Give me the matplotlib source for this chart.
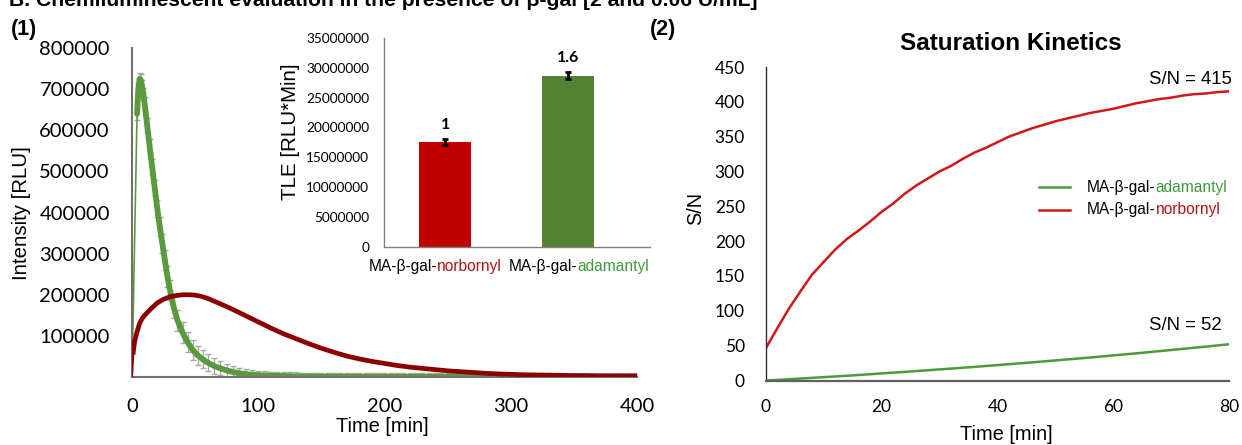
import matplotlib
matplotlib.use("Agg")
import matplotlib.pyplot as plt
from matplotlib.offsetbox import TextArea, HPacker, AnnotationBbox

# ---------------- data ----------------
# (1) kinetic profiles
t_green = [0, 4, 5, 6, 7, 8, 9, 10, 12, 14, 16, 18, 20, 22, 24, 26, 28, 30, 33, 36, 40,
           44, 48, 52, 56, 60, 65, 70, 75, 80, 85, 90, 95, 100,
           105, 110, 115, 120, 125, 130, 135, 140, 145, 150, 155, 160, 165, 170, 175, 180,
           185, 190, 195, 200, 205, 210, 215, 220, 225, 230, 235, 240, 245, 250, 255, 260,
           265, 270, 275, 280, 285, 290, 295, 300, 305, 310, 315, 320, 325, 330, 335, 340,
           345, 350, 355, 360, 365, 370, 375, 380, 385, 390, 395, 400]
adamantyl_rlu = [0, 640000, 700000, 725000, 722000, 708000, 688000, 665000, 612000, 560000,
                 510000, 460000, 410000, 366000, 325000, 285000, 245000, 212000, 170000,
                 138000, 108000, 85000, 66000, 53000, 43000, 35000, 27000, 21000, 16000,
                 12000, 9000, 7000, 5500, 4500,
                 3800, 3200, 2700, 2300, 2000, 1700, 1500, 1300, 1100, 1000, 900, 800, 700,
                 650, 600, 550, 500, 450, 400, 380, 360, 340, 320, 300, 290, 280, 270, 260,
                 250, 240, 230, 220, 210, 200, 200, 190, 180, 180, 170, 160, 160, 150, 150,
                 140, 140, 130, 130, 120, 120, 110, 110, 100, 100, 100, 100, 100, 100, 100,
                 100, 100]
adamantyl_err = [0, 15000, 15000, 15000, 15000, 15000, 15000, 16000, 17000, 18000, 19000,
                 20000, 21000, 22000, 23000, 24000, 25000, 25000, 26000, 26000, 26000, 25000,
                 24000, 23000, 22000, 21000, 19000, 17000, 15000, 14000, 13000, 12000, 11000,
                 10000,
                 9800, 9700, 9600, 9500, 9500, 9400, 9400, 9300, 9300, 9200, 9200, 9100, 9100,
                 9000, 9000, 9000, 8900, 8900, 8900, 8800, 8800, 8800, 8700, 8700, 8700, 8600,
                 8600, 8600, 8500, 8500, 8500, 8500, 8400, 8400, 8400, 8400, 8300, 8300, 8300,
                 8300, 8200, 8200, 8200, 8200, 8100, 8100, 8100, 8100, 8000, 8000, 8000, 8000,
                 8000, 8000, 8000, 8000, 8000, 8000, 8000, 8000]
t_red = [0, 1, 2, 4, 6, 8, 10, 15, 20, 25, 30, 35, 40, 45, 50, 55, 60, 70, 80, 90, 100,
         110, 120, 130, 140, 150, 160, 170, 180, 190, 200, 210, 220, 230, 240, 250, 260,
         270, 280, 290, 300, 310, 320, 330, 340, 350, 360, 370, 380, 390, 400]
norbornyl_rlu = [0, 60000, 85000, 110000, 130000, 142000, 150000, 166000, 180000, 189000,
                 195000, 198000, 200000, 200000, 199000, 196000, 191000, 178000, 164000,
                 149000, 134000, 119000, 105000, 93000, 81000, 70000, 60000, 51000, 44000,
                 38000, 33000, 28000, 24000, 21000, 18000, 15000, 13000, 11000, 9000, 7500,
                 6500, 5500, 5000, 4500, 4000, 3500, 3500, 3000, 3000, 3000, 3000]

# inset: total light emission
tle_categories = ["norbornyl", "adamantyl"]
tle_values = [17500000, 28700000]
tle_errors = [500000, 550000]
tle_fold = ["1", "1.6"]

# (2) saturation kinetics
t_sat = [0, 2, 4, 6, 8, 10, 12, 14, 16, 18, 20, 22, 24, 26, 28, 30, 32, 34, 36, 38, 40,
         42, 44, 46, 48, 50, 52, 54, 56, 58, 60, 62, 64, 66, 68, 70, 72, 74, 76, 78, 80]
sn_norbornyl = [46, 75, 103, 128, 152, 170, 188, 203, 215, 228, 242, 254, 268, 280, 290,
                300, 308, 318, 327, 334, 342, 350, 356, 362, 367, 372, 376, 380, 384, 387,
                390, 394, 398, 401, 404, 406, 409, 411, 412, 414, 415]
sn_adamantyl = [0, 0.8, 1.8, 2.8, 3.8, 4.8, 5.8, 6.8, 7.9, 9.0, 10.2, 11.3, 12.4, 13.5,
                14.7, 15.9, 17.1, 18.3, 19.5, 20.8, 22.1, 23.4, 24.7, 26.0, 27.4, 28.8,
                30.2, 31.6, 33.0, 34.5, 36.0, 37.5, 39.0, 40.6, 42.2, 43.8, 45.4, 47.0,
                48.6, 50.3, 52.0]

# ---------------- style ----------------
ARIAL = "Liberation Sans"
CAL = "Lato"
GREEN_THICK = "#5b9a3c"
DARKRED = "#8b0000"
BAR_RED = "#c00000"
BAR_GREEN = "#548235"
LINE_RED = "#d01818"
LINE_GREEN = "#4c9a3a"
TXT_GREEN = "#3f9a3f"
TXT_RED = "#b01515"

W, H = 1242, 445
fig = plt.figure(figsize=(W / 100, H / 100), dpi=100)


def fx(px):
    return px / W


def fy(py):
    return 1 - py / H


# ---------- left main axes ----------
ax1 = fig.add_axes([fx(132), fy(377), fx(637 - 132), (377 - 48) / H])
ax1.errorbar(t_green, adamantyl_rlu, yerr=adamantyl_err, fmt="none", ecolor="#a8a8a8",
             elinewidth=1.0, capsize=2.5, capthick=1.0, zorder=1)
ax1.plot(t_green[:2], adamantyl_rlu[:2], color=GREEN_THICK, lw=1.2, zorder=2)
ax1.plot(t_green[1:], adamantyl_rlu[1:], color=GREEN_THICK, lw=4.2, zorder=2,
         solid_capstyle="round")
ax1.plot(t_red[:2], norbornyl_rlu[:2], color=DARKRED, lw=1.5, zorder=3)
ax1.plot(t_red[1:], norbornyl_rlu[1:], color=DARKRED, lw=3.4, zorder=3)
ax1.set_xlim(0, 400)
ax1.set_ylim(0, 800000)
ax1.set_xticks([0, 100, 200, 300, 400])
ax1.set_yticks(range(100000, 800001, 100000))
ax1.set_yticklabels([str(v) for v in range(100000, 800001, 100000)])
for s in ["top", "right"]:
    ax1.spines[s].set_visible(False)
for s in ["left", "bottom"]:
    ax1.spines[s].set_color("#707070")
    ax1.spines[s].set_linewidth(1.5)
ax1.tick_params(length=0, labelsize=14.5, pad=16)
ax1.tick_params(axis="x", pad=15)
for lab in ax1.get_xticklabels() + ax1.get_yticklabels():
    lab.set_family(CAL)
fig.text(fx(22), fy(213), "Intensity [RLU]", rotation=90, ha="center", va="center",
         fontsize=14.7, family=ARIAL)
fig.text(fx(382), fy(427), "Time [min]", ha="center", va="center", fontsize=14.4,
         family=ARIAL)

# ---------- inset ----------
axi = fig.add_axes([fx(384.3), fy(246.7), fx(650 - 384.3), (246.7 - 38) / H])
axi.patch.set_alpha(0)
xpos = [0, 1]
axi.bar(xpos, tle_values, width=0.42, color=[BAR_RED, BAR_GREEN], zorder=2)
axi.errorbar(xpos, tle_values, yerr=tle_errors, fmt="none", ecolor="black",
             elinewidth=2.2, capsize=2.5, capthick=2, zorder=3)
for x, v, e, lab in zip(xpos, tle_values, tle_errors, tle_fold):
    axi.annotate(lab, (x, v + e), xytext=(0, 5), textcoords="offset points",
                 ha="center", va="bottom", fontsize=11.5, fontweight="bold", family=CAL)
axi.set_xlim(-0.495, 1.667)
axi.set_ylim(0, 35000000)
axi.set_yticks(range(0, 35000001, 5000000))
axi.set_yticklabels([str(v) for v in range(0, 35000001, 5000000)])
axi.set_xticks([])
for s in ["top", "right"]:
    axi.spines[s].set_visible(False)
for s in ["left", "bottom"]:
    axi.spines[s].set_color("#808080")
    axi.spines[s].set_linewidth(1.0)
axi.tick_params(length=0, labelsize=9.8, pad=11)
for lab in axi.get_yticklabels():
    lab.set_family(CAL)
fig.text(fx(290), fy(131.5), "TLE [RLU*Min]", rotation=90, ha="center", va="center",
         fontsize=14.8, family=ARIAL)


def two_color(prefix, suffix, color, size):
    a = TextArea(prefix, textprops=dict(color="black", fontsize=size, family=ARIAL))
    b = TextArea(suffix, textprops=dict(color=color, fontsize=size, family=ARIAL))
    return HPacker(children=[a, b], align="baseline", pad=0, sep=0)


cat_colors = [TXT_RED, TXT_GREEN]
cat_centers_px = [435, 578.6]
for name, col, cx in zip(tle_categories, cat_colors, cat_centers_px):
    box = two_color("MA-β-gal-", name, col, 11.2)
    ab = AnnotationBbox(box, (fx(cx), fy(267)), xycoords="figure fraction",
                        box_alignment=(0.5, 0.5), frameon=False, pad=0)
    fig.add_artist(ab)

# ---------- right axes ----------
ax2 = fig.add_axes([fx(765.7), fy(380.5), fx(1229 - 765.7), (380.5 - 67) / H])
ax2.plot(t_sat, sn_adamantyl, color=LINE_GREEN, lw=1.8)
ax2.plot(t_sat, sn_norbornyl, color=LINE_RED, lw=1.8)
ax2.set_xlim(0, 80)
ax2.set_ylim(0, 450)
ax2.set_xticks([0, 20, 40, 60, 80])
ax2.set_yticks(range(0, 451, 50))
for s in ["top", "right"]:
    ax2.spines[s].set_visible(False)
ax2.spines["left"].set_color("#303030")
ax2.spines["left"].set_linewidth(1.0)
ax2.spines["bottom"].set_color("#606060")
ax2.spines["bottom"].set_linewidth(1.6)
ax2.tick_params(length=0, labelsize=12.5, pad=15)
ax2.tick_params(axis="x", pad=13)
for lab in ax2.get_xticklabels() + ax2.get_yticklabels():
    lab.set_family(CAL)
ax2.text(1.0065, 0.9617, "S/N = 415", transform=ax2.transAxes, ha="right", va="center",
         fontsize=13.4, family=ARIAL)
ax2.text(0.985, 0.177, "S/N = 52", transform=ax2.transAxes, ha="right", va="center",
         fontsize=13.4, family=ARIAL)
fig.text(fx(1011), fy(44), "Saturation Kinetics", ha="center", va="center",
         fontsize=17.5, fontweight="bold", family=ARIAL)
fig.text(fx(696), fy(208), "S/N", rotation=90, ha="center", va="center", fontsize=14.3,
         family=ARIAL)
fig.text(fx(1006), fy(435), "Time [min]", ha="center", va="center", fontsize=14.4,
         family=ARIAL)

# legend (manual, two-coloured labels)
leg_rows = [("adamantyl", LINE_GREEN, TXT_GREEN, 0.617),
            ("norbornyl", LINE_RED, TXT_RED, 0.544)]
for name, lc, tc, yy in leg_rows:
    ax2.plot([0.590, 0.657], [yy, yy], color=lc, lw=1.8, transform=ax2.transAxes,
             clip_on=False)
    box = two_color("MA-β-gal-", name, tc, 11.2)
    ab = AnnotationBbox(box, (0.6935, yy), xycoords=ax2.transAxes,
                        box_alignment=(0, 0.5), frameon=False, pad=0)
    ax2.add_artist(ab)

# ---------- panel labels & heading (cropped at the top edge, as in the reference) ----------
fig.text(fx(9), fy(6), "B. Chemiluminescent evaluation in the presence of β-gal [2 and 0.06 U/mL]",
         ha="left", va="baseline", fontsize=15.2, fontweight="bold", family=ARIAL)
fig.text(fx(24), fy(29), "(1)", ha="center", va="center", fontsize=15.5,
         fontweight="bold", family=ARIAL)
fig.text(fx(663), fy(29), "(2)", ha="center", va="center", fontsize=15.5,
         fontweight="bold", family=ARIAL)

fig.savefig("out.png", dpi=100)
